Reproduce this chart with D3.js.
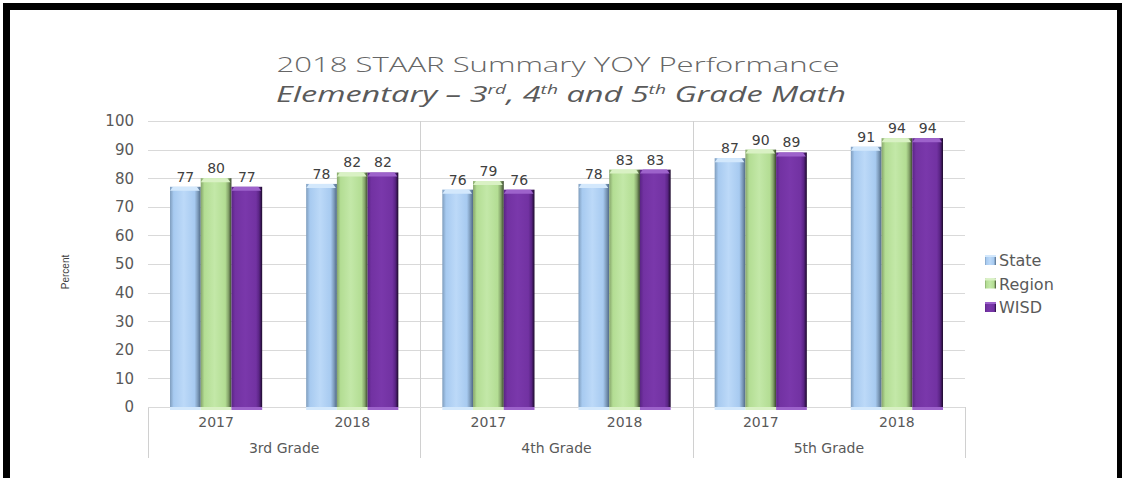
<!DOCTYPE html>
<html>
<head>
<meta charset="utf-8">
<script src="https://cdn.jsdelivr.net/npm/d3@7"></script>
<style>
  body { margin: 0; background: #fff; }
  svg { display: block; }
</style>
</head>
<body>
<div id="chart"></div>
<script>
// values
var grades = ["3rd Grade", "4th Grade", "5th Grade"];
var years = ["2017", "2018"];
var series = ["State", "Region", "WISD"];
var state = [77, 78, 76, 78, 87, 91];
var region = [80, 82, 79, 83, 90, 94];
var wisd = [77, 82, 76, 83, 89, 94];
var yTicks = [0, 10, 20, 30, 40, 50, 60, 70, 80, 90, 100];

var W = 1122, H = 478;
var plot = {left: 148, right: 965, top: 121, bottom: 407};

var svg = d3.select("#chart").append("svg")
  .attr("width", W).attr("height", H);

// bar looks: left edge, body, highlight, right edge, top cap
var looks = {
  State:  {edge: "#7f9dbd", body: "#a7caf0", hi: "#bcd9f8", dark: "#4f6986", cap: "#d3e8fc"},
  Region: {edge: "#86a56b", body: "#b3dd93", hi: "#c3e8a8", dark: "#38462c", cap: "#d9f1c4"},
  WISD:   {edge: "#5a2485", body: "#7232a2", hi: "#7a38ab", dark: "#1c0a2b", cap: "#9d62cb"}
};

var defs = svg.append("defs");
series.forEach(function(s){
  var c = looks[s];
  var g = defs.append("linearGradient").attr("id", "g-" + s)
    .attr("x1", "0%").attr("x2", "100%").attr("y1", "0%").attr("y2", "0%");
  g.append("stop").attr("offset", "0%").attr("stop-color", c.edge);
  g.append("stop").attr("offset", "12%").attr("stop-color", c.body);
  g.append("stop").attr("offset", "45%").attr("stop-color", c.hi);
  g.append("stop").attr("offset", "80%").attr("stop-color", c.body);
  g.append("stop").attr("offset", "90%").attr("stop-color", c.edge);
  g.append("stop").attr("offset", "100%").attr("stop-color", c.dark);
});

// frame
svg.append("rect").attr("x", 3).attr("y", 3).attr("width", 1118).attr("height", 7).attr("fill", "#000");
svg.append("rect").attr("x", 3).attr("y", 3).attr("width", 7).attr("height", H).attr("fill", "#000");
svg.append("rect").attr("x", 1117).attr("y", 3).attr("width", 5).attr("height", H).attr("fill", "#000");

// title
var title = svg.append("g").attr("fill", "#666").attr("font-family", "'Open Sans', sans-serif");
title.append("text").attr("x", 558).attr("y", 72).attr("text-anchor", "middle")
  .attr("font-size", 21).attr("font-weight", 300)
  .attr("textLength", 563).attr("lengthAdjust", "spacingAndGlyphs")
  .text("2018 STAAR Summary YOY Performance");
var t2 = title.append("text").attr("x", 276).attr("y", 102)
  .attr("font-size", 22).attr("font-style", "italic").attr("fill", "#5a5a5a")
  .attr("textLength", 570).attr("lengthAdjust", "spacingAndGlyphs");
t2.append("tspan").text("Elementary \u2013 3");
t2.append("tspan").attr("dy", -8).attr("font-size", 13).text("rd");
t2.append("tspan").attr("dy", 8).text(", 4");
t2.append("tspan").attr("dy", -8).attr("font-size", 13).text("th");
t2.append("tspan").attr("dy", 8).text(" and 5");
t2.append("tspan").attr("dy", -8).attr("font-size", 13).text("th");
t2.append("tspan").attr("dy", 8).text(" Grade Math");

// scales
var cats = [];
grades.forEach(function(g){ years.forEach(function(y){ cats.push(g + "|" + y); }); });
var x0 = d3.scaleBand().domain(cats).range([plot.left, plot.right]);
var xg = d3.scaleBand().domain(grades).range([plot.left, plot.right]);
var x1 = d3.scaleBand().domain(series).range([22, x0.bandwidth() - 22]);
var y = d3.scaleLinear().domain([0, 100]).range([plot.bottom, plot.top]);

// gridlines
svg.append("g").selectAll("line").data(yTicks.slice(1)).enter().append("line")
  .attr("x1", plot.left).attr("x2", plot.right)
  .attr("y1", function(d){ return Math.round(y(d)) + 0.5; })
  .attr("y2", function(d){ return Math.round(y(d)) + 0.5; })
  .attr("stroke", "#d9d9d9").attr("stroke-width", 1);

// y axis labels
var yAxis = svg.append("g").attr("transform", "translate(134,0)")
  .call(d3.axisLeft(y).tickValues(yTicks).tickSize(0).tickPadding(0));
yAxis.select(".domain").remove();
yAxis.selectAll("text").attr("font-family", "'DejaVu Sans', sans-serif")
  .attr("font-size", 15).attr("fill", "#595959");

svg.append("text").attr("transform", "translate(69,272) rotate(-90)")
  .attr("text-anchor", "middle").attr("font-family", "'Liberation Sans Narrow', 'Liberation Sans', sans-serif")
  .attr("font-size", 10).attr("fill", "#404040").text("Percent");

// category separators and bottom axis
var seps = grades.map(function(g){ return xg(g); }).concat([plot.right]);
svg.append("g").selectAll("line").data(seps).enter().append("line")
  .attr("x1", function(d){ return Math.round(d) + 0.5; })
  .attr("x2", function(d){ return Math.round(d) + 0.5; })
  .attr("y1", function(d, i){ return (i === 1 || i === 2) ? plot.top : plot.bottom; })
  .attr("y2", 458)
  .attr("stroke", "#d0d0d0");
svg.append("line").attr("x1", plot.left).attr("x2", plot.right)
  .attr("y1", plot.bottom + 0.5).attr("y2", plot.bottom + 0.5).attr("stroke", "#d9d9d9");

var xAxis = svg.append("g").attr("transform", "translate(0," + plot.bottom + ")")
  .call(d3.axisBottom(x0).tickSize(0).tickPadding(10).tickFormat(function(d){ return d.split("|")[1]; }));
xAxis.select(".domain").remove();
xAxis.selectAll("text").attr("font-family", "'DejaVu Sans', sans-serif")
  .attr("font-size", 14).attr("fill", "#595959");

var gAxis = svg.append("g").attr("transform", "translate(0," + (plot.bottom + 36) + ")")
  .call(d3.axisBottom(xg).tickSize(0).tickPadding(0));
gAxis.select(".domain").remove();
gAxis.selectAll("text").attr("font-family", "'DejaVu Sans', sans-serif")
  .attr("font-size", 14).attr("fill", "#595959");

// bars
var rows = cats.map(function(c, i){
  return {cat: c, vals: [
    {s: "State", v: state[i]}, {s: "Region", v: region[i]}, {s: "WISD", v: wisd[i]}
  ]};
});

var groups = svg.append("g").selectAll("g").data(rows).enter().append("g")
  .attr("transform", function(d){ return "translate(" + x0(d.cat) + ",0)"; });

var bar = groups.selectAll("g").data(function(d){ return d.vals; }).enter().append("g");

bar.append("rect")
  .attr("x", function(d){ return x1(d.s); })
  .attr("y", plot.bottom)
  .attr("width", x1.bandwidth())
  .attr("height", 3)
  .attr("fill", function(d){ return looks[d.s].cap; });

bar.append("rect")
  .attr("x", function(d){ return x1(d.s); })
  .attr("y", function(d){ return y(d.v); })
  .attr("width", x1.bandwidth())
  .attr("height", function(d){ return plot.bottom - y(d.v); })
  .attr("fill", function(d){ return "url(#g-" + d.s + ")"; });

bar.append("path")
  .attr("d", function(d){
    var xl = x1(d.s), w = x1.bandwidth(), yt = y(d.v);
    return "M" + xl + "," + (yt + 4) + "L" + (xl + 3) + "," + yt + "L" + (xl + w - 4) + "," + yt +
      "L" + (xl + w - 1) + "," + (yt + 4) + "Z";
  })
  .attr("fill", function(d){ return looks[d.s].cap; });

bar.append("text")
  .attr("x", function(d){ return x1(d.s) + x1.bandwidth() / 2; })
  .attr("y", function(d){ return y(d.v) - 5; })
  .attr("text-anchor", "middle")
  .attr("font-family", "'DejaVu Sans', sans-serif")
  .attr("font-size", 14).attr("fill", "#404040")
  .text(function(d){ return d.v; });

// legend
var leg = svg.append("g").attr("transform", "translate(985,0)")
  .selectAll("g").data(series).enter().append("g")
  .attr("transform", function(d, i){ return "translate(0," + (255 + i * 23.5) + ")"; });
leg.append("rect").attr("width", 11).attr("height", 10)
  .attr("fill", function(d){ return "url(#g-" + d + ")"; });
leg.append("rect").attr("width", 11).attr("height", 2)
  .attr("fill", function(d){ return looks[d].cap; });
leg.append("text").attr("x", 14).attr("y", 11)
  .attr("font-family", "'DejaVu Sans', sans-serif").attr("font-size", 16).attr("fill", "#595959")
  .text(function(d){ return d; });
</script>
</body>
</html>
